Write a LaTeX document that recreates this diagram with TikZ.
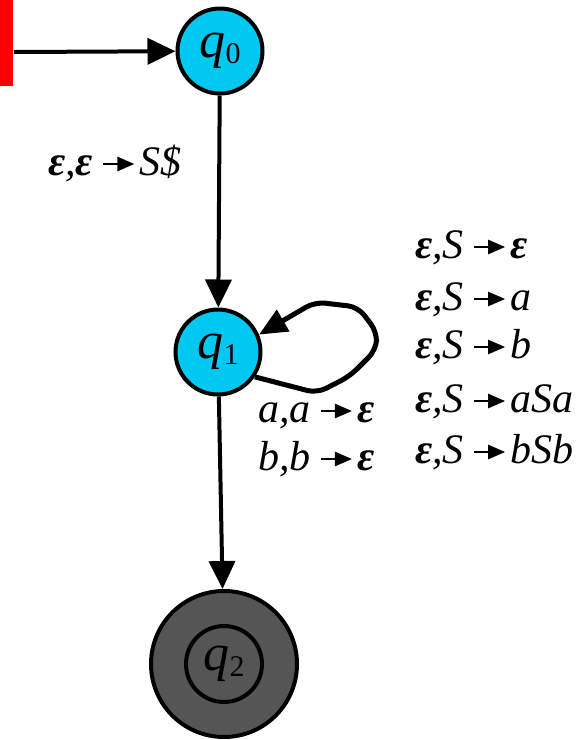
\documentclass[tikz,border=0pt]{standalone}
\usepackage{fontspec}
\setmainfont{Liberation Serif}
\usetikzlibrary{arrows.meta}
\definecolor{qcyan}{RGB}{0,200,240}
\definecolor{qgray}{RGB}{85,85,85}
\newcommand{\rar}{\hspace{9pt}\tikz[baseline=-11pt, x=1pt, y=1pt]\draw[line width=2.5pt, -{Triangle[length=17pt,width=14pt]}] (0,0)--(31,0);\hspace{4pt}}
\newcommand{\eps}{\textbf{\textit{ε}}}
\begin{document}
\begin{tikzpicture}[x=1pt,y=-1pt,
  state/.style={circle, draw, line width=4pt, fill=qcyan, minimum size=85pt, inner sep=0pt, font=\fontsize{52}{56}\selectfont},
  edge/.style={line width=4pt, -{Triangle[length=28pt,width=26pt]}},
  lbl/.style={font=\fontsize{42}{46}\selectfont\itshape, inner sep=0pt, anchor=base west}]
\useasboundingbox (0,0) rectangle (584,740);
\fill[red] (0,0) rectangle (13,86);
\node[state] (q0) at (220,51) {\textit{q}\raisebox{-0.12em}{\fontsize{30}{32}\selectfont 0}};
\node[state] (q1) at (218,352) {\textit{q}\raisebox{-0.12em}{\fontsize{30}{32}\selectfont 1}};
\node[state, fill=qgray, minimum size=146pt] (q2) at (224,664) {};
\node[circle, draw, line width=4pt, minimum size=76pt, inner sep=0pt, font=\fontsize{52}{56}\selectfont] (q2in) at (q2.center) {\textit{q}\raisebox{-0.12em}{\fontsize{30}{32}\selectfont 2}};
\coordinate (init) at (14,52);
\draw[edge] (init) -- (q0);
\draw[edge] (q0) -- (q1);
\draw[edge] (q1) -- (q2);
\draw[line width=5pt, -{Triangle[length=28pt,width=24pt]}, rounded corners=10pt]
  (q1.-34) -- (317,393) -- (350,376) -- (376,350) -- (377,332) -- (358,307) -- (315,302) -- (q1.23);
\node[lbl] (l0) at (48,175) {\eps,\eps\rar S\$};
\node[lbl] (l1) at (415,258) {\eps,S\rar\eps};
\node[lbl] (l2) at (415,310) {\eps,S\rar a};
\node[lbl] (l3) at (415,358) {\eps,S\rar b};
\node[lbl] (l4) at (415,412) {\eps,S\rar aSa};
\node[lbl] (l5) at (415,463) {\eps,S\rar bSb};
\node[lbl] (l6) at (258,422) {a,a\rar\eps};
\node[lbl] (l7) at (258,470) {b,b\rar\eps};
\end{tikzpicture}
\end{document}
